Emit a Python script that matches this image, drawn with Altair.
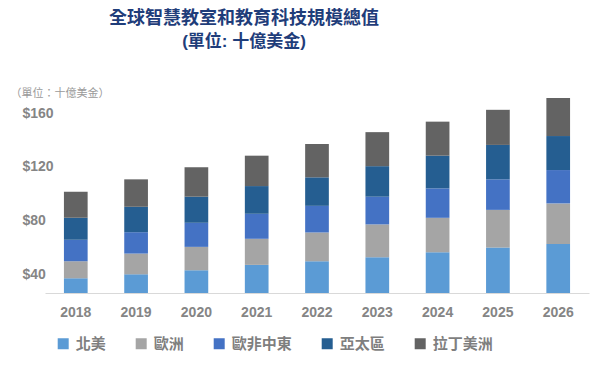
import altair as alt
import pandas as pd

years = ["2018", "2019", "2020", "2021", "2022", "2023", "2024", "2025", "2026"]
regions = ["北美", "歐洲", "歐非中東", "亞太區", "拉丁美洲"]
north_america = [37.2, 40.2, 43.2, 47.2, 49.9, 52.9, 56.6, 60.1, 62.8]
europe = [12.7, 15.4, 17.4, 19.4, 21.4, 24.4, 25.6, 28.0, 30.1]
emea = [15.9, 15.9, 17.9, 18.6, 19.8, 20.6, 21.9, 22.7, 24.8]
apac = [16.4, 18.9, 19.4, 20.6, 21.2, 22.7, 24.3, 25.6, 25.3]
latam = [19.4, 20.4, 21.9, 22.6, 24.8, 25.3, 25.3, 26.1, 28.3]
colors = ["#5b9bd5", "#a5a5a5", "#4472c4", "#255e91", "#636363"]
y_ticks = [40, 80, 120, 160]

series = [north_america, europe, emea, apac, latam]
rows = []
for ri, (name, vals) in enumerate(zip(regions, series)):
    for y, v in zip(years, vals):
        rows.append({"year": y, "region": name, "value": v, "order": ri})
df = pd.DataFrame(rows)

FONT = "Liberation Sans, Arial, Noto Sans CJK TC, sans-serif"
GRAY = "#858585"

chart = alt.Chart(df).mark_bar(clip=True).encode(
    x=alt.X("year:N", title=None,
            scale=alt.Scale(paddingInner=0.607, paddingOuter=0.314),
            axis=alt.Axis(labelAngle=0, ticks=False, domainColor="#d9d9d9",
                          labelPadding=12, labelFontSize=14, labelFontWeight="bold",
                          labelColor=GRAY, labelFont=FONT)),
    y=alt.Y("value:Q", stack="zero",
            scale=alt.Scale(domain=[26.3, 175], nice=False, zero=False),
            axis=alt.Axis(values=y_ticks, format="$.0f", grid=False, domain=False,
                          ticks=False, tickSize=0, labelAlign="left", labelPadding=23,
                          labelBaseline="middle", labelFontSize=14, labelFontWeight="bold",
                          labelColor=GRAY, labelFont=FONT,
                          title="（單位：十億美金）", titleAngle=0, titleX=-35, titleY=0,
                          titleAlign="left", titleBaseline="middle", titleFontSize=11,
                          titleFontWeight="normal", titleColor="#9a9a9a", titleFont=FONT)),
    color=alt.Color("region:N", sort=regions,
                    scale=alt.Scale(domain=regions, range=colors),
                    legend=alt.Legend(orient="none", legendX=10.7, legendY=243,
                                      direction="horizontal", title=None,
                                      symbolType="square", symbolSize=121,
                                      symbolStrokeWidth=0, labelFontSize=15,
                                      labelFontWeight="bold", labelColor="#7f7f7f",
                                      labelFont=FONT, columnPadding=27,
                                      labelOffset=5, padding=0)),
    order=alt.Order("order:Q"),
).properties(
    width=544,
    height=200,
    autosize=alt.AutoSizeParams(type="none"),
    padding={"left": 37, "top": 85, "right": 3, "bottom": 70},
    title=alt.TitleParams(
        text="全球智慧教室和教育科技規模總值",
        subtitle="(單位: 十億美金)",
        anchor="start", align="center", dx=199, frame="group",
        fontSize=18, fontWeight="bold", color="#1f3d7a", font=FONT,
        subtitleFontSize=17, subtitleFontWeight="bold", subtitleColor="#1f3d7a",
        subtitleFont=FONT, subtitlePadding=6, offset=37,
    ),
).configure_view(stroke=None)

chart.save("out.html", embed_options={"renderer": "svg", "actions": False})
